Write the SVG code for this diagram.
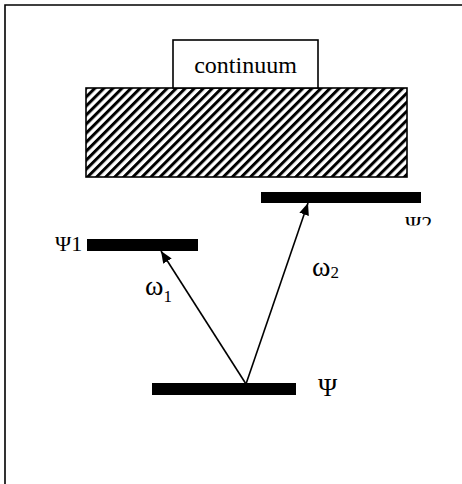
<svg xmlns="http://www.w3.org/2000/svg" width="462" height="484" viewBox="0 0 462 484">
<defs>
<style>
.t{font-family:"Liberation Serif","Times New Roman",serif;fill:#000}
.bar{fill:#000}
.ln{stroke:#000;stroke-width:1.6;fill:none}
</style>
<pattern id="hatch" patternUnits="userSpaceOnUse" width="6.4" height="6.4" patternTransform="rotate(45)">
<rect x="0" y="0" width="6.4" height="6.4" fill="#fff"/>
<rect x="0" y="0" width="3" height="6.4" fill="#000"/>
</pattern>
<marker id="ah" viewBox="0 0 12 10" refX="12" refY="5" markerWidth="12" markerHeight="10" markerUnits="userSpaceOnUse" orient="auto">
<path d="M0,0 L12,5 L0,10 Z" fill="#000"/>
</marker>
<clipPath id="clipPsi2"><rect x="380" y="200" width="80" height="25.5"/></clipPath>
</defs>
<rect width="462" height="484" fill="#fff"/>
<g id="frame">
<path class="ln" d="M5,484 V5 H462"/>
</g>
<g id="continuum-band">
<rect x="86" y="88" width="321" height="89" fill="url(#hatch)" stroke="#000" stroke-width="1.6"/>
</g>
<g id="continuum-label">
<rect x="173" y="40" width="145" height="48" fill="#fff" stroke="#000" stroke-width="1.6"/>
<text class="t" x="245.5" y="73" font-size="24" text-anchor="middle" font-family="Liberation Serif, serif">continuum</text>
</g>
<g id="psi1">
<rect class="bar" x="87" y="239" width="111" height="12"/>
<text class="t" x="55" y="251" font-size="22">Ψ1</text>
</g>
<g id="psi2">
<rect class="bar" x="261" y="192" width="160" height="11"/>
<text class="t" x="405" y="231" font-size="22" clip-path="url(#clipPsi2)">Ψ2</text>
</g>
<g id="psi">
<rect class="bar" x="152" y="383" width="144" height="12"/>
<text class="t" x="318" y="396" font-size="26">Ψ</text>
</g>
<g id="connectors">
<line class="ln" x1="246" y1="384" x2="161" y2="251" marker-end="url(#ah)"/>
<line class="ln" x1="246" y1="384" x2="308" y2="203" marker-end="url(#ah)"/>
</g>
<g id="labels">
<text class="t" x="145" y="295" font-size="28">ω<tspan font-size="17" dy="7">1</tspan></text>
<text class="t" x="312" y="276" font-size="28">ω<tspan font-size="17" dy="2">2</tspan></text>
</g>
</svg>
